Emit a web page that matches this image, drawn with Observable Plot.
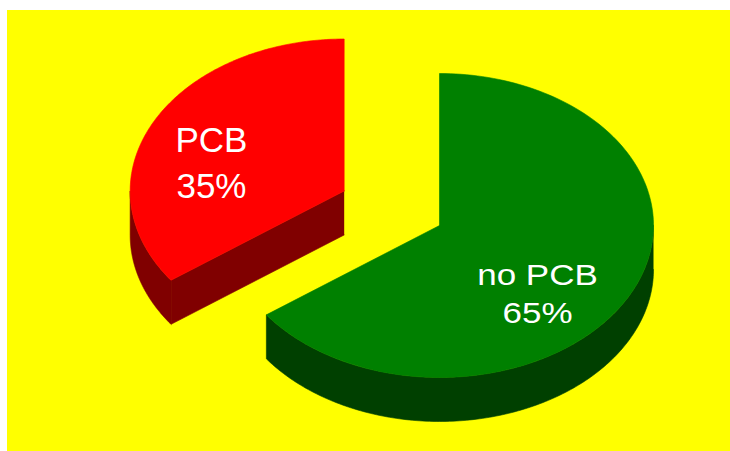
<!DOCTYPE html>
<html>
<head>
<meta charset="utf-8">
<script src="https://cdn.jsdelivr.net/npm/d3@7"></script>
<script src="https://cdn.jsdelivr.net/npm/@observablehq/plot@0.6"></script>
<style>
  html, body { margin: 0; padding: 0; background: #ffffff; overflow: hidden; }
  #chart { position: absolute; left: 7px; top: 10px; }
  #chart svg { background: #ffff00; display: block; }
</style>
</head>
<body>
<div id="chart"></div>
<script>
// ---- data ----
const categories = ["PCB", "no PCB"];
const values = [35, 65];
const topColors = ["#ff0000", "#008000"];
const sideColors = ["#800000", "#004000"];
const explode = [0.5, 0];
const labelTexts = ["PCB\n35%", "no PCB\n65%"];

// ---- layout ----
const W = 723, H = 441;
const CX = 432, CY = 215, RX = 214, RY = 152, DEPTH = 44;
const labelFactor = [[0.696, 0.445], [0.514, 0.967]];
const labelScaleY = [1, 0.83];

const total = d3.sum(values);
const startAngle = -2 * Math.PI * values[0] / total;
const arcs = d3.pie().sort(null).startAngle(startAngle).endAngle(startAngle + 2 * Math.PI)(values);

const slices = arcs.map((a, i) => {
  const mid = (a.startAngle + a.endAngle) / 2;
  const cx = CX + explode[i] * RX * Math.sin(mid);
  const cy = CY - explode[i] * RY * Math.cos(mid);
  return {i, a0: a.startAngle, a1: a.endAngle, mid, cx, cy};
});

const pt = (s, ang, dz = 0) => ({x: s.cx + RX * Math.sin(ang), y: s.cy - RY * Math.cos(ang) + dz});
const arcPts = (s, from, to, dz = 0, n = 160) => d3.range(n + 1).map(k => pt(s, from + (to - from) * k / n, dz));

const tops = [], walls = [], faces = [];
slices.forEach(s => {
  const id = categories[s.i];
  // top face
  const topPoly = [{x: s.cx, y: s.cy}, ...arcPts(s, s.a0, s.a1), {x: s.cx, y: s.cy}];
  topPoly.forEach(p => tops.push({...p, id, color: topColors[s.i]}));
  // outer wall (front half: angles between 90° and 270°)
  const norm = a => ((a % (2 * Math.PI)) + 2 * Math.PI) % (2 * Math.PI);
  let a0 = norm(s.a0); let a1 = a0 + (s.a1 - s.a0);
  const lo = Math.max(a0, Math.PI / 2), hi = Math.min(a1, 3 * Math.PI / 2);
  if (hi > lo) {
    const poly = [...arcPts(s, lo, hi), ...arcPts(s, hi, lo, DEPTH)];
    poly.forEach(p => walls.push({...p, id, color: sideColors[s.i]}));
  }
  // radial faces
  if (Math.sin(s.a0) < -1e-6) {
    const e = pt(s, s.a0);
    const poly = [{x: s.cx, y: s.cy}, e, {x: e.x, y: e.y + DEPTH}, {x: s.cx, y: s.cy + DEPTH}];
    poly.forEach(p => faces.push({...p, id, color: sideColors[s.i]}));
  }
  if (Math.sin(s.a1) > 1e-6) {
    const e = pt(s, s.a1);
    const poly = [{x: s.cx, y: s.cy}, e, {x: e.x, y: e.y + DEPTH}, {x: s.cx, y: s.cy + DEPTH}];
    poly.forEach(p => faces.push({...p, id: id + "-end", color: sideColors[s.i]}));
  }
});

const labelData = slices.map(s => ({
  text: labelTexts[s.i],
  x: s.cx + labelFactor[s.i][0] * RX * Math.sin(s.mid),
  y: s.cy - labelFactor[s.i][1] * RY * Math.cos(s.mid)
}));

const marks = [];
// painter's order: slice by slice (back-left red first, then green)
slices.forEach(s => {
  const id = categories[s.i];
  const w = walls.filter(d => d.id === id);
  const f = faces.filter(d => d.id.startsWith(id) && (d.id === id || d.id === id + "-end"));
  const t = tops.filter(d => d.id === id);
  marks.push(Plot.line(w, {x: "x", y: "y", z: "id", fill: "color", stroke: "color", strokeWidth: 0.6}));
  marks.push(Plot.line(f, {x: "x", y: "y", z: "id", fill: "color", stroke: "color", strokeWidth: 0.6}));
  marks.push(Plot.line(t, {x: "x", y: "y", z: "id", fill: "color", stroke: "color", strokeWidth: 0.6}));
});
labelData.forEach(l => {
  marks.push(Plot.text([l], {x: "x", y: "y", text: "text", fill: "#ffffff", fontSize: 35,
    lineHeight: 1.314, textAnchor: "middle", lineAnchor: "middle",
    fontFamily: "Liberation Sans, Arial, sans-serif"}));
});

const chart = Plot.plot({
  width: W, height: H, margin: 0,
  x: {domain: [0, W], range: [0, W], axis: null},
  y: {domain: [0, H], range: [0, H], axis: null},
  color: {type: "identity"},
  style: {background: "#ffff00"},
  marks
});
document.getElementById("chart").appendChild(chart);

// vertical compression of labels where needed
const textGroups = chart.querySelectorAll('g[aria-label="text"]');
textGroups.forEach((g, i) => {
  const s = labelScaleY[i];
  if (s !== 1) {
    const ly = labelData[i].y;
    const wrap = document.createElementNS("http://www.w3.org/2000/svg", "g");
    wrap.setAttribute("transform", `translate(0,${ly}) scale(1,${s}) translate(0,${-ly})`);
    g.parentNode.insertBefore(wrap, g);
    wrap.appendChild(g);
  }
});
</script>
</body>
</html>
